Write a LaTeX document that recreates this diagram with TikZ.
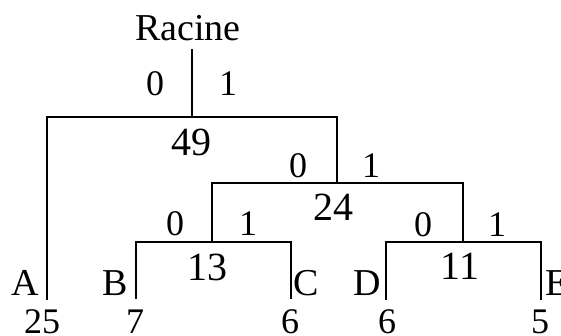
\documentclass[tikz,border=0pt]{standalone}
\usepackage{fontspec}
\setmainfont{Liberation Serif}
\begin{document}
\begin{tikzpicture}[x=1pt,y=-1pt,
  edge/.style={line width=1.9pt},
  bit/.style={anchor=base,inner sep=0pt,font=\fontsize{36}{36}\selectfont},
  weight/.style={anchor=base,inner sep=0pt,font=\fontsize{40}{40}\selectfont},
  leafname/.style={anchor=base,inner sep=0pt,font=\fontsize{38}{38}\selectfont},
  leafnum/.style={anchor=base,inner sep=0pt,font=\fontsize{36}{36}\selectfont}]
\useasboundingbox (0,0) rectangle (561,335);
\clip (0,0) rectangle (561,335);
% junctions and leaf ends
\coordinate (top) at (192,49);
\coordinate (j1) at (192,117);
\coordinate (j2) at (337,183);
\coordinate (j3) at (212,242);
\coordinate (j4) at (463,242);
\coordinate (la) at (47,300);
\coordinate (lb) at (136,299);
\coordinate (lc) at (291,299);
\coordinate (ld) at (386,300);
\coordinate (le) at (541,300);
% connectors
\draw[edge] (top) -- (j1);
\draw[edge] (la) |- (j1) -| (j2);
\draw[edge] (j3) |- (j2) -| (j4);
\draw[edge] (lb) |- (j3) -| (lc);
\draw[edge] (ld) |- (j4) -| (le);
% labels
\node[leafname] (racine) at (188,40) {Racine};
\node[bit] (b10) at (155,95) {0};
\node[bit] (b11) at (228,95) {1};
\node[weight] (w49) at (191,155) {49};
\node[bit] (b20) at (298,177) {0};
\node[bit] (b21) at (371,177) {1};
\node[weight] (w24) at (333,220) {24};
\node[bit] (b30) at (175,235) {0};
\node[bit] (b31) at (248,235) {1};
\node[weight] (w13) at (207,280) {13};
\node[bit] (b40) at (423,236) {0};
\node[bit] (b41) at (497,236) {1};
\node[weight] (w11) at (460,279) {11};
\node[leafname] (na) at (25,295) {A};
\node[leafname] (nb) at (115,295) {B};
\node[leafname] (nc) at (306,295) {C};
\node[leafname] (nd) at (367,295) {D};
\node[leafname] (ne) at (557,295) {E};
\node[leafnum] (va) at (42,333) {25};
\node[leafnum] (vb) at (135,333) {7};
\node[leafnum] (vc) at (290,333) {6};
\node[leafnum] (vd) at (387,333) {6};
\node[leafnum] (ve) at (540,333) {5};
\end{tikzpicture}
\end{document}
